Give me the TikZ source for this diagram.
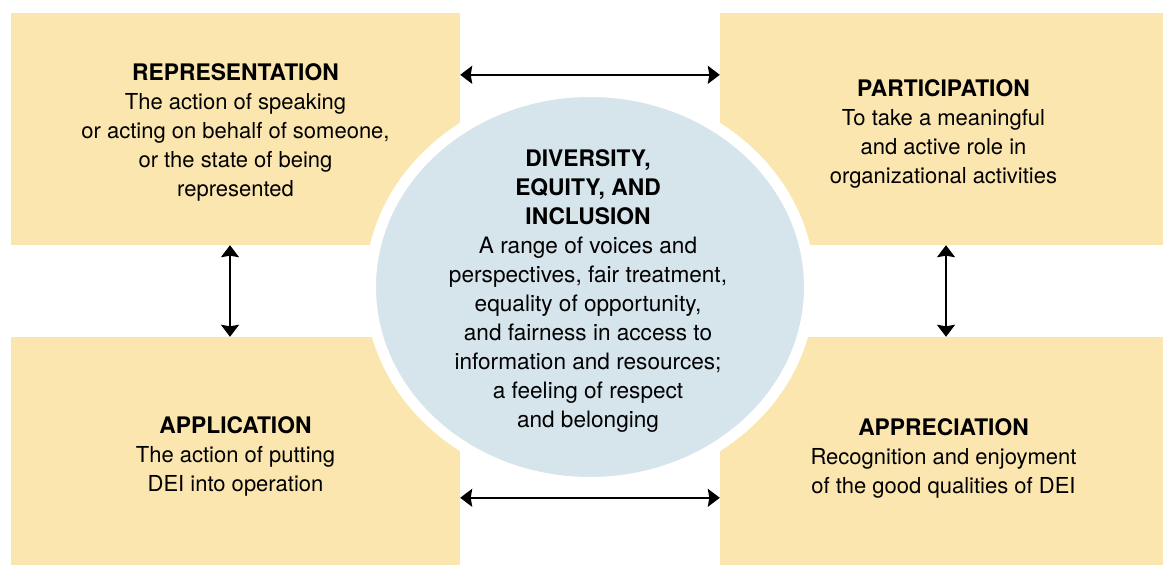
\documentclass[tikz,border=0pt]{standalone}
\usepackage{fontspec}
\setmainfont{TeX Gyre Heros}
\usetikzlibrary{arrows.meta,shapes.geometric}
\definecolor{BoxClr}{RGB}{252,230,175}
\definecolor{DiscClr}{RGB}{214,228,236}
\newcommand\headfont{\fontsize{22.8}{29}\bfseries}

\tikzset{
  box/.style={fill=BoxClr,inner sep=0pt},
  boxtext/.style={inner sep=0pt,align=center,font=\fontsize{22}{29}\selectfont},
  disc/.style={ellipse,fill=DiscClr,draw=white,line width=11pt,inner sep=0pt},
  link/.style={line width=1.8pt,
    {Stealth[length=12pt,width=18pt,inset=1.5pt]}-{Stealth[length=12pt,width=18pt,inset=1.5pt]}}
}

\begin{document}
\begin{tikzpicture}[x=1pt,y=-1pt]
\useasboundingbox (0,0) rectangle (1163,565);

% the four boxes
\node[box,minimum width=449pt,minimum height=232pt] (rep) at (235.5,129) {};
\node[box,minimum width=443pt,minimum height=232pt] (part) at (941.5,129) {};
\node[box,minimum width=449pt,minimum height=228pt] (app) at (235.5,451) {};
\node[box,minimum width=443pt,minimum height=228pt] (appr) at (941.5,451) {};

\node[boxtext] (repTxt) at ([yshift=-3pt]rep)
  {{\headfont REPRESENTATION}\\The action of speaking\\or acting on behalf of someone,\\or the state of being\\represented};
\node[boxtext] (partTxt) at ([yshift=-5pt,xshift=2pt]part)
  {{\headfont PARTICIPATION}\\To take a meaningful\\and active role in\\organizational activities};
\node[boxtext] (appTxt) at ([yshift=-5pt]app)
  {{\headfont APPLICATION}\\The action of putting\\DEI into operation};
\node[boxtext] (apprTxt) at ([yshift=-7pt,xshift=2pt]appr)
  {{\headfont APPRECIATION}\\Recognition and enjoyment\\of the good qualities of DEI};

% centre disc
\node[disc,minimum width=439pt,minimum height=391pt] (dei) at (590,287) {};
\node[boxtext,font=\fontsize{22.6}{29}\selectfont] (deiTxt) at ([yshift=-4pt,xshift=-2pt]dei)
  {{\headfont DIVERSITY,}\\{\headfont EQUITY, AND}\\{\headfont INCLUSION}\\A range of voices and\\perspectives, fair treatment,\\equality of opportunity,\\and fairness in access to\\information and resources;\\a feeling of respect\\and belonging};

\draw[link] ([yshift=-62pt]rep.north east) -- ([yshift=-62pt]part.north west);
\draw[link] ([yshift=-161pt]app.north east) -- ([yshift=-161pt]appr.north west);
\draw[link] ([xshift=-5.5pt]rep.south) -- ([xshift=-5.5pt]app.north);
\draw[link] ([xshift=4.5pt]part.south) -- ([xshift=4.5pt]appr.north);
\end{tikzpicture}
\end{document}
